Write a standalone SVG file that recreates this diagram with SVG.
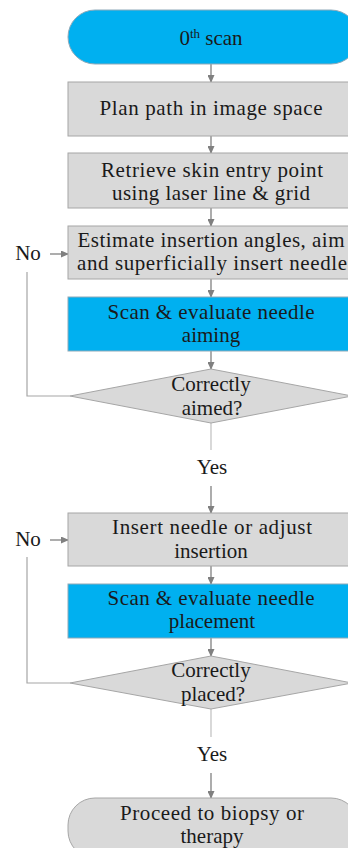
<svg xmlns="http://www.w3.org/2000/svg" width="348" height="848" viewBox="0 0 348 848">
<style>
text{font-family:"Liberation Serif","Times New Roman",serif;font-size:21px;fill:#1a1a1a;text-anchor:middle}
.blue{fill:#00B0F0;stroke:#8FA9B8;stroke-width:1}
.gray{fill:#D9D9D9;stroke:#A6A6A6;stroke-width:1}
.arr{stroke:#808080;stroke-width:1.3;fill:none;marker-end:url(#ah)}
.ln{stroke:#A6A6A6;stroke-width:1.2;fill:none}
.ln2{stroke:#BFBFBF;stroke-width:1.2;fill:none}
</style>
<defs>
<marker id="ah" markerWidth="8" markerHeight="7" refX="7" refY="3.5" orient="auto" markerUnits="userSpaceOnUse">
<path d="M0,0 L8,3.5 L0,7 Z" fill="#808080"/>
</marker>
</defs>
<rect width="348" height="848" fill="#fff"/>
<g id="connectors">
<line class="arr" x1="211" y1="64" x2="211" y2="82"/>
<line class="arr" x1="211" y1="136" x2="211" y2="153"/>
<line class="arr" x1="211" y1="208" x2="211" y2="226"/>
<line class="arr" x1="211" y1="279" x2="211" y2="297"/>
<line class="arr" x1="211" y1="351" x2="211" y2="369"/>
<line class="ln2" x1="211" y1="423" x2="211" y2="450"/>
<line class="arr" x1="211" y1="486" x2="211" y2="513"/>
<line class="arr" x1="211" y1="566" x2="211" y2="584"/>
<line class="arr" x1="211" y1="638" x2="211" y2="656"/>
<line class="ln2" x1="211" y1="709" x2="211" y2="737"/>
<line class="arr" x1="211" y1="773" x2="211" y2="798"/>
<polyline class="ln" points="70,396 27,396 27,272"/>
<polyline class="ln" points="70,683 27,683 27,557"/>
<line class="arr" x1="50" y1="254" x2="68" y2="254"/>
<line class="arr" x1="50" y1="540" x2="68" y2="540"/>
<text x="28" y="260">No</text>
<text x="28" y="546">No</text>
<text x="212" y="474">Yes</text>
<text x="212" y="761">Yes</text>
</g>
<g id="start">
<rect class="blue" x="68" y="10" width="290" height="54" rx="27"/>
<text x="211" y="45">0<tspan font-size="13" dy="-7">th</tspan><tspan dy="7"> scan</tspan></text>
</g>
<g id="plan">
<rect class="gray" x="68" y="82" width="290" height="54"/>
<text x="211" y="115" textLength="223">Plan path in image space</text>
</g>
<g id="retrieve">
<rect class="gray" x="68" y="153" width="290" height="55"/>
<text x="212" y="177" textLength="222">Retrieve skin entry point</text>
<text x="211" y="200" textLength="198">using laser line &amp; grid</text>
</g>
<g id="estimate">
<rect class="gray" x="68" y="226" width="290" height="53"/>
<text x="211" y="247" textLength="267">Estimate insertion angles, aim</text>
<text x="212" y="270" textLength="270">and superficially insert needle</text>
</g>
<g id="scan1">
<rect class="blue" x="68" y="297" width="290" height="54"/>
<text x="211" y="319" textLength="207">Scan &amp; evaluate needle</text>
<text x="211" y="342">aiming</text>
</g>
<g id="aimed">
<polygon class="gray" points="211,369 352,396 211,423 70,396"/>
<text x="211" y="391">Correctly</text>
<text x="212" y="415">aimed?</text>
</g>
<g id="insert">
<rect class="gray" x="68" y="513" width="290" height="53"/>
<text x="212" y="534" textLength="200">Insert needle or adjust</text>
<text x="211" y="558">insertion</text>
</g>
<g id="scan2">
<rect class="blue" x="68" y="584" width="290" height="54"/>
<text x="211" y="605" textLength="207">Scan &amp; evaluate needle</text>
<text x="212" y="628">placement</text>
</g>
<g id="placed">
<polygon class="gray" points="211,656 352,683 211,709 70,683"/>
<text x="211" y="677">Correctly</text>
<text x="213" y="701">placed?</text>
</g>
<g id="proceed">
<rect class="gray" x="68" y="798" width="290" height="60" rx="27"/>
<text x="212" y="820" textLength="184">Proceed to biopsy or</text>
<text x="212" y="843">therapy</text>
</g>
</svg>
